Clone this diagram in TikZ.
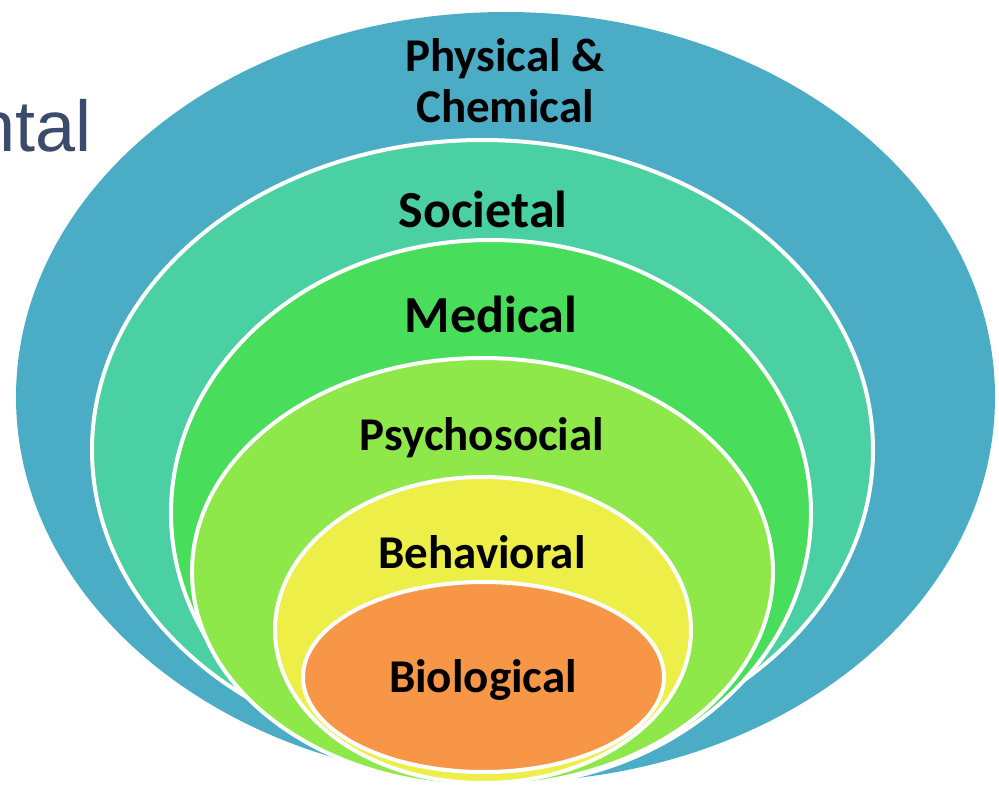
\documentclass[tikz,border=0pt]{standalone}
\usepackage{fontspec}
\setmainfont{Carlito}
\newfontfamily\titlefont{Liberation Sans}
\usetikzlibrary{shapes.geometric}
\definecolor{physteal}{RGB}{75,172,198}
\definecolor{socteal}{RGB}{75,208,163}
\definecolor{medgreen}{RGB}{72,221,90}
\definecolor{psylime}{RGB}{142,232,74}
\definecolor{behyellow}{RGB}{237,239,72}
\definecolor{bioorange}{RGB}{247,150,70}
\definecolor{slate}{RGB}{59,75,110}

\begin{document}
\begin{tikzpicture}[x=1pt,y=-1pt]
      \tikzstyle{ring}=[ellipse,draw=white,line width=4pt,inner sep=0pt]
      \tikzstyle{big}=[font=\bfseries\fontsize{52}{52}\selectfont,anchor=base]
      \tikzstyle{small}=[font=\bfseries\fontsize{47}{51}\selectfont,anchor=base,align=center]

      \useasboundingbox (0,0) rectangle (999,789);
      \clip (0,0) rectangle (999,789);

      \node[ring,fill=physteal,draw=none,minimum width=979pt,minimum height=770pt] (phys) at (505.5,397) {};
      \node[ring,fill=socteal,minimum width=781pt,minimum height=620pt] (soc) at (482.5,450) {};
      \node[ring,fill=medgreen,minimum width=640pt,minimum height=546pt] (med) at (491,513) {};
      \node[ring,fill=psylime,minimum width=581pt,minimum height=428pt] (psy) at (482.5,572) {};
      \node[ring,fill=behyellow,minimum width=416pt,minimum height=306pt] (beh) at (483,630) {};
      \node[ring,fill=bioorange,minimum width=361pt,minimum height=190pt] (bio) at (483.5,677) {};

      \node[small] (physlbl) at (505,72) {Physical \&};
      \node[small] (chemlbl) at (505,123) {Chemical};
      \node[big] (soclbl) at (483,227) {Societal};
      \node[big] (medlbl) at (491,332) {Medical};
      \node[small] (psylbl) at (482,450) {Psychosocial};
      \node[small] (behlbl) at (482,568) {Behavioral};
      \node[small] (biolbl) at (483,692) {Biological};

      \node[font=\titlefont\fontsize{72}{72}\selectfont,text=slate,anchor=base east,inner sep=0pt] (envlbl) at (92,152) {ntal};
\end{tikzpicture}
\end{document}
